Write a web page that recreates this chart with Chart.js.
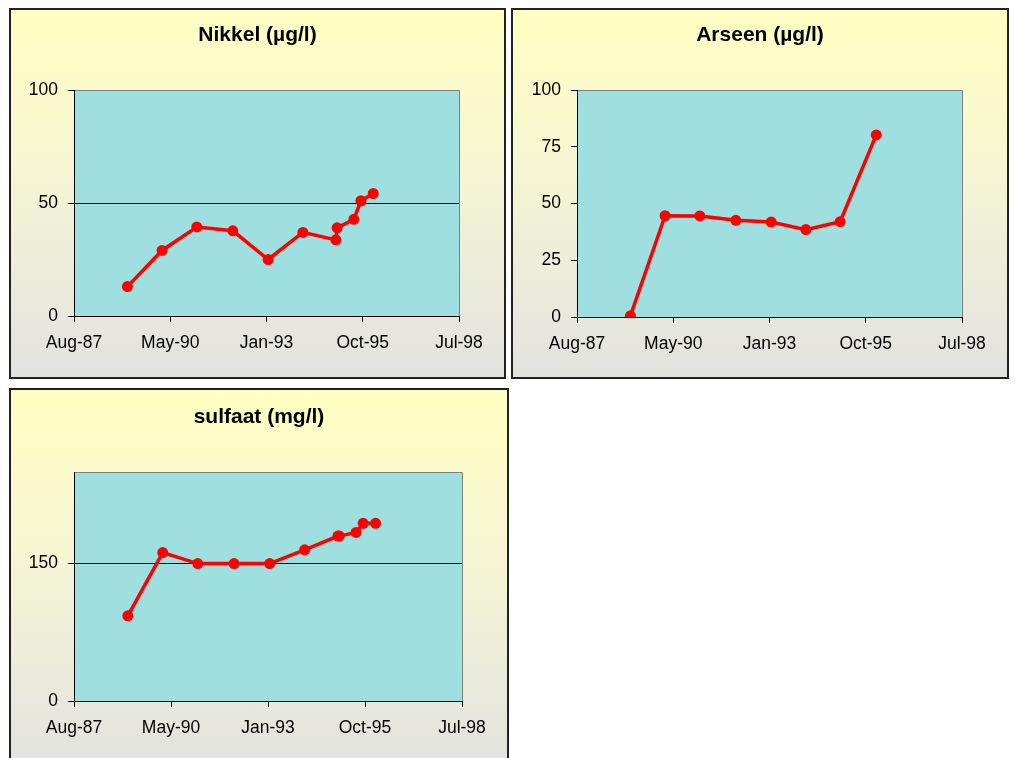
<!DOCTYPE html>
<html>
<head>
<meta charset="utf-8">
<title>Grondwaterkwaliteit</title>
<script src="https://cdn.jsdelivr.net/npm/chart.js@4/dist/chart.umd.min.js"></script>
<style>
  html, body { margin: 0; padding: 0; background: #ffffff; overflow: hidden; }
  body { width: 1015px; height: 758px; position: relative; }
  .panel {
    position: absolute;
    box-sizing: border-box;
    border: 2px solid #222222;
    background: linear-gradient(to bottom, #FFFFC2 0%, #F5F5D4 45%, #E2E2E0 100%);
  }
  .panel canvas { position: absolute; left: 0; top: 0; }
</style>
</head>
<body>
<div class="panel" style="left:9px;top:8px;width:497px;height:371px;"><canvas id="nikkelChart" width="493" height="367"></canvas></div>
<div class="panel" style="left:511px;top:8px;width:498px;height:371px;"><canvas id="arseenChart" width="494" height="367"></canvas></div>
<div class="panel" style="left:9px;top:388px;width:500px;height:380px;"><canvas id="sulfaatChart" width="496" height="376"></canvas></div>

<script>
// Sampling dates (shared by nikkel and sulfaat)
const sampleDates = ['1989-02-16', '1990-02-11', '1991-02-07', '1992-02-16', '1993-02-17',
                     '1994-02-13', '1995-01-22', '1995-02-04', '1995-07-28', '1995-10-09', '1996-02-14'];
// Nikkel (µg/l)
const nikkel = [13, 29, 39.4, 37.7, 25, 37, 33.7, 39, 42.8, 51, 54.2];
// Sulfaat (mg/l)
const sulfaat = [93, 162, 150, 150, 150, 165, 180, 180, 184, 194, 194];
// Arseen (µg/l) was measured on fewer dates
const arseenDates = ['1989-02-16', '1990-02-11', '1991-02-07', '1992-02-16', '1993-02-17',
                     '1994-02-13', '1995-02-04', '1996-02-14'];
const arseen = [0.5, 44.6, 44.5, 42.6, 41.8, 38.5, 42, 80.2];

// Time axis: five labels, 1000 days apart, starting on 11 Aug 1987
const timeAxisStart = '1987-08-11';
const timeAxisStepDays = 1000;
const timeTickLabels = ['Aug-87', 'May-90', 'Jan-93', 'Oct-95', 'Jul-98'];

// Value axis ticks per chart
const nikkelTicks = [0, 50, 100];
const arseenTicks = [0, 25, 50, 75, 100];
const sulfaatTicks = [0, 150];
const sulfaatMax = 250;

const DAY_MS = 864e5;
const toDay = s => Date.parse(s) / DAY_MS;
const startDay = toDay(timeAxisStart);
const timeTickValues = timeTickLabels.map((_, i) => startDay + i * timeAxisStepDays);

const FONT = "'Liberation Sans', Arial, sans-serif";

// Plot-area fill and the grey top/right frame
const plotFrame = {
  id: 'plotFrame',
  beforeDraw(chart) {
    const { ctx, chartArea: a } = chart;
    ctx.save();
    ctx.fillStyle = '#A0DFDF';
    ctx.fillRect(a.left, a.top, a.right - a.left, a.bottom - a.top);
    ctx.strokeStyle = '#808080';
    ctx.lineWidth = 1;
    ctx.beginPath();
    ctx.moveTo(Math.round(a.left) + 0.5, Math.round(a.top) + 0.5);
    ctx.lineTo(Math.round(a.right) + 0.5, Math.round(a.top) + 0.5);
    ctx.lineTo(Math.round(a.right) + 0.5, Math.round(a.bottom) + 0.5);
    ctx.stroke();
    ctx.restore();
  }
};

function makeChart(canvasId, title, dates, values, yTicks, yMax, gridAt, lay) {
  const points = dates.map((d, i) => ({ x: toDay(d), y: values[i] }));
  return new Chart(document.getElementById(canvasId), {
    type: 'line',
    data: {
      datasets: [{
        data: points,
        borderColor: '#FF0000',
        backgroundColor: '#FF0000',
        borderWidth: 3.5,
        pointRadius: 5.5,
        pointBorderWidth: 0,
        pointBackgroundColor: '#FF0000',
        tension: 0,
        fill: false
      }]
    },
    options: {
      responsive: false,
      devicePixelRatio: 1,
      animation: false,
      events: [],
      layout: { padding: 0 },
      plugins: {
        legend: { display: false },
        tooltip: { enabled: false },
        title: {
          display: true,
          text: title,
          color: '#000000',
          font: { family: FONT, size: 21, weight: 'bold', lineHeight: 1.2 },
          padding: { top: lay.titleTop, bottom: lay.titleBottom }
        }
      },
      scales: {
        x: {
          type: 'linear',
          min: timeTickValues[0],
          max: timeTickValues[timeTickValues.length - 1],
          afterBuildTicks: s => { s.ticks = timeTickValues.map(v => ({ value: v })); },
          afterFit: s => { s.height = lay.xHeight; s.paddingLeft = 0; s.paddingRight = lay.rightPad; },
          ticks: {
            callback: (v, i) => timeTickLabels[i],
            color: '#000000',
            font: { family: FONT, size: 17.5 },
            padding: 11,
            maxRotation: 0,
            autoSkip: false
          },
          grid: { drawOnChartArea: false, drawTicks: true, tickLength: 6, tickColor: '#000000', tickWidth: 1 },
          border: { display: true, color: '#000000', width: 1 }
        },
        y: {
          type: 'linear',
          min: 0,
          max: yMax,
          afterBuildTicks: s => { s.ticks = yTicks.map(v => ({ value: v })); },
          afterFit: s => { s.width = lay.yWidth; },
          ticks: {
            color: '#000000',
            font: { family: FONT, size: 17.5 },
            padding: 10
          },
          grid: {
            drawOnChartArea: true,
            drawTicks: true,
            tickLength: 6,
            tickColor: '#000000',
            tickWidth: 1,
            lineWidth: 1,
            color: c => (c.tick && gridAt.includes(c.tick.value)) ? '#000000' : 'rgba(0,0,0,0)'
          },
          border: { display: true, color: '#000000', width: 1 }
        }
      }
    },
    plugins: [plotFrame]
  });
}

makeChart('nikkelChart', 'Nikkel (µg/l)', sampleDates, nikkel, nikkelTicks, 100, [50],
  { yWidth: 63, xHeight: 61, rightPad: 45, titleTop: 13, titleBottom: 41.8 });
makeChart('arseenChart', 'Arseen (µg/l)', arseenDates, arseen, arseenTicks, 100, [],
  { yWidth: 64, xHeight: 60, rightPad: 45, titleTop: 13, titleBottom: 41.8 });
makeChart('sulfaatChart', 'sulfaat (mg/l)', sampleDates, sulfaat, sulfaatTicks, sulfaatMax, [150],
  { yWidth: 63, xHeight: 65, rightPad: 45, titleTop: 15, titleBottom: 41.8 });
</script>
</body>
</html>
